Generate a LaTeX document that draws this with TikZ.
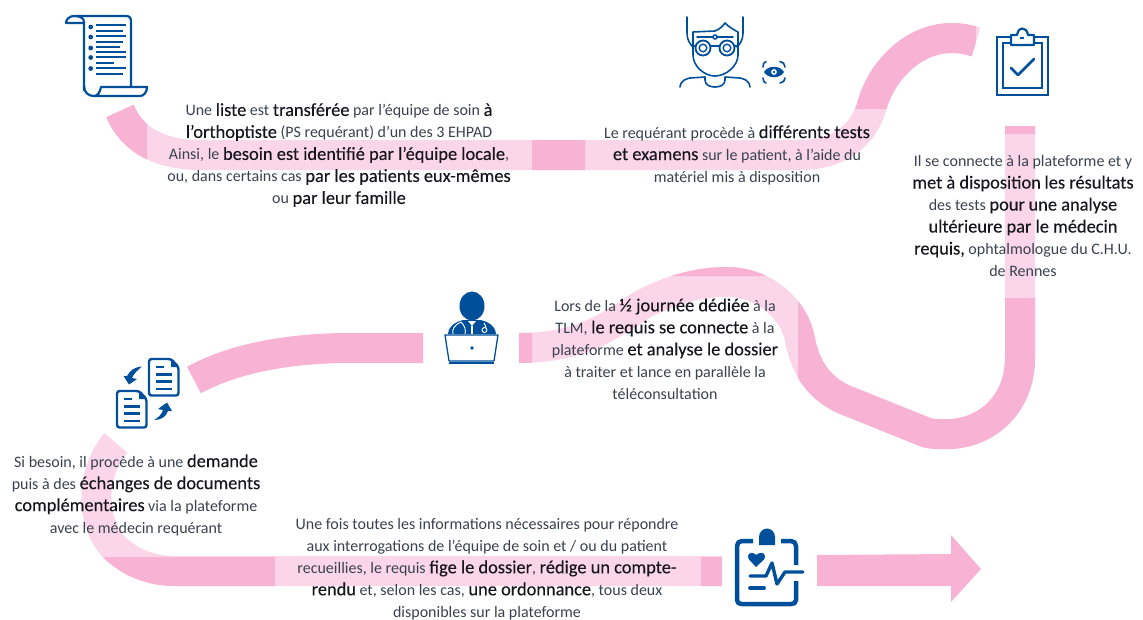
\documentclass[tikz,border=0pt]{standalone}
\usepackage{fontspec}
\setmainfont{Carlito}
\newfontfamily\emfont[FakeBold=0.2]{Carlito}
\definecolor{rdark}{HTML}{F7B2D4}
\definecolor{rpale}{HTML}{FBD6E8}
\definecolor{ink}{HTML}{004F9A}
\definecolor{txt}{HTML}{38424F}
\definecolor{txtb}{HTML}{16161E}
\newcommand{\hi}[1]{{\emfont\fontsize{18.4}{22}\selectfont\color{txtb}#1}}
\newcommand{\pathA}{(120,111) .. controls (132,140) and (160,155) .. (200,155) -- (800,155) .. controls (840,155) and (862,135) .. (871,109) .. controls (882,65) and (925,25) .. (976,42)}
\newcommand{\pathB}{(1020,126) -- (1020,358) .. controls (1020,405) and (985,436) .. (943,434) .. controls (935,434) and (930,434) .. (925,432) -- (843,399) .. controls (820,388) and (806,370) .. (800,340) .. controls (795,310) and (765,282) .. (727,282) .. controls (690,282) and (660,295) .. (640,306) .. controls (605,330) and (575,348) .. (519,348)}
\newcommand{\pathC}{(194,380) .. controls (240,355) and (300,348) .. (350,348) -- (423,348)}
\newcommand{\pathD}{(116,443) .. controls (92,470) and (88,520) .. (115,548) .. controls (130,562) and (150,571) .. (175,571) -- (722,571)}
\tikzset{
  ribbon/.style={line width=30pt,line cap=butt},
  block/.style={align=center,inner sep=0pt,text=txt,font=\fontsize{16}{22}\selectfont},
  icon/.style={draw=ink,line width=2.2pt,line cap=round,line join=round},
  thinicon/.style={draw=ink,line width=1.6pt,line cap=round,line join=round},
  boldicon/.style={draw=ink,line width=4.5pt,line cap=round,line join=round}
}
\begin{document}
\begin{tikzpicture}[x=1pt,y=-1pt]
\useasboundingbox (0,0) rectangle (1143,619);
% ribbons
\draw[ribbon,rpale] \pathA;
\draw[ribbon,rpale] \pathB;
\draw[ribbon,rpale] \pathD;
\draw[ribbon,rdark] \pathC;
\begin{scope}
\clip (90,90) rectangle (147,185) (532,125) rectangle (585,185) (840,0) rectangle (976,109);
\draw[ribbon,rdark] \pathA;
\end{scope}
\begin{scope}
\clip (1000,120) rectangle (1040,134) (798,298) rectangle (1143,460) (519,325) rectangle (532,370) (660,250) rectangle (790,276);
\draw[ribbon,rdark] \pathB;
\end{scope}
\begin{scope}
\clip (60,557) rectangle (275,600) (701,557) rectangle (722,600);
\draw[ribbon,rdark] \pathD;
\end{scope}
\fill[rdark] (817,555) -- (951,554) -- (951,535) -- (981,569) -- (951,602) -- (951,586) -- (817,586) -- cycle;
% scroll icon
\draw[icon] (84,90) -- (84,22) .. controls (84,18) and (80,16) .. (74,16) -- (126,16) .. controls (130,16) and (131,18) .. (131,22) -- (131,87);
\draw[icon] (74,16) .. controls (70,16) and (66,19) .. (66,23) -- (84,23);
\draw[icon] (84,86) .. controls (84,93) and (89,96) .. (94,96) -- (140,96) .. controls (144,96) and (147,92) .. (147,87) -- (101,87) .. controls (100,92) and (98,96) .. (94,96);
\foreach \yy/\xe in {25/126,30.7/123,36/126,41.7/123,46.7/120,52/126,57.3/126,62.7/114,68.3/126,74/123}
  \draw[ink,line width=2pt] (96,\yy) -- (\xe,\yy);
\foreach \yy in {27,37,48,57.5,68.5}
  \fill[ink] (90.7,\yy) circle (2.4pt);
% optician icon
\draw[thinicon] (687,17) -- (687,33) .. controls (687,40) and (690,44) .. (693,47);
\draw[thinicon] (743,17) -- (743,33) .. controls (743,40) and (740,44) .. (737,47);
\draw[thinicon] (693,32) -- (715,31) .. controls (720,29) and (723,26) .. (725,23) .. controls (729,27) and (734,30) .. (738,32) -- (738,55) .. controls (738,66) and (726,76) .. (715,76) .. controls (704,76) and (693,66) .. (693,55) -- cycle;
\draw[thinicon] (697,37) -- (733,37);
\fill[white] (715,37) circle (2pt); \draw[thinicon] (715,37) circle (2pt);
\foreach \cx in {703,727} { \draw[ink,line width=1.8pt,fill=white] (\cx,48) circle (7.5pt); \draw[ink,line width=1.4pt] (\cx,48) circle (3.8pt); }
\draw[thinicon] (692,46) -- (695,46) (711,46) -- (719,46) (735,46) -- (738,46);
\draw[thinicon] (680,87) .. controls (681,80) and (686,79) .. (690,78) -- (705,77) -- (705,80) .. controls (705,85) and (710,87) .. (715,87) .. controls (720,87) and (725,85) .. (725,80) -- (725,77) -- (740,78) .. controls (744,79) and (749,80) .. (750,87);
% eye icon
\draw[ink,line width=1.6pt,line cap=round] (763,67) .. controls (763,64) and (764,62) .. (766,61.5)
  (780,61.5) .. controls (783,62) and (785,64) .. (785,67)
  (763,78) .. controls (763,81) and (764,82.5) .. (766,83)
  (780,83) .. controls (783,82.5) and (785,81) .. (785,78);
\fill[ink,even odd rule] (764,72) .. controls (768,65) and (780,65) .. (784,72) .. controls (780,79) and (768,79) .. (764,72) (774,72) circle (3pt);
\fill[ink] (774,72) circle (1.3pt);
% clipboard check icon
\draw[ink,line width=2.8pt] (1011,37) -- (997,37) -- (997,95) -- (1048,95) -- (1048,37) -- (1034,37);
\draw[ink,line width=2.2pt] (1011,43) -- (1003,43) -- (1003,88) -- (1042,88) -- (1042,43) -- (1034,43);
\draw[ink,line width=2.2pt,line join=round] (1011,45) -- (1011,35) -- (1017,35) .. controls (1018,30) and (1020,28.5) .. (1022,28.5) .. controls (1025,28.5) and (1027,30) .. (1028,35) -- (1034,35) -- (1034,45) -- cycle;
\draw[ink,line width=1.4pt] (1020,38) -- (1024,38);
\draw[ink,line width=2.6pt,line cap=round,line join=round] (1011,68) -- (1018,75) -- (1034,59);
% doctor icon
\fill[ink] (472,306) ellipse (12.5pt and 14.5pt);
\fill[ink] (448,334) .. controls (449,325) and (456,322) .. (463,320) -- (481,320) .. controls (488,322) and (495,325) .. (496,334) -- cycle;
\fill[white] (468,321) -- (476,321) -- (472,326) -- cycle;
\draw[white,line width=1.1pt] (472,326) -- (472,334);
\draw[white,line width=.9pt] (461,322) .. controls (453,326) and (452,330) .. (453,334) (461,322) .. controls (465,326) and (466,330) .. (465,334);
\draw[white,line width=.9pt] (484,323) -- (486,327) (484.5,330) circle (2.5pt);
\draw[ink,line width=1.3pt,fill=white,line join=round] (445,335) -- (498,335) -- (494,361) -- (449,361) -- cycle;
\draw[ink,line width=1.8pt] (449,363) -- (494,363);
\fill[ink] (472,348) circle (1.8pt);
% documents icon
\foreach \dx/\dy in {0/0,-32/32}{
  \draw[ink,line width=2.4pt,line join=round,rounded corners=2.5pt] (149+\dx,359+\dy) -- (171+\dx,359+\dy) -- (178.5+\dx,367+\dy) -- (178.5+\dx,395.5+\dy) -- (149+\dx,395.5+\dy) -- cycle;
  \fill[ink] (171+\dx,360+\dy) -- (177.5+\dx,367+\dy) -- (171+\dx,367+\dy) -- cycle;
  \draw[ink,line width=2.2pt] (156+\dx,367+\dy) -- (164+\dx,367+\dy) (156+\dx,374.5+\dy) -- (172+\dx,374.5+\dy) (156+\dx,381.5+\dy) -- (172+\dx,381.5+\dy) (156+\dx,389+\dy) -- (172+\dx,389+\dy);
}
\fill[ink] (142,366.5) .. controls (135,367) and (130,370) .. (127,376) -- (123.5,376) -- (129,384.5) -- (137,379) -- (132,378) .. controls (134,373) and (138,370) .. (142,366.5) -- cycle;
\fill[ink] (154,420) .. controls (161,420) and (166,417) .. (168,411) -- (172,411) -- (167,402.5) -- (158,409) -- (163,410) .. controls (162,414) and (158,418) .. (154,420) -- cycle;
% medical clipboard icon
\draw[boldicon,line cap=butt] (753,541) -- (742,541) .. controls (739,541) and (737,543) .. (737,546) -- (737,600) .. controls (737,603) and (739,604) .. (742,604) -- (791,604) .. controls (794,604) and (796,603) .. (796,600) -- (796,581);
\draw[boldicon,line cap=butt] (781,541) -- (791,541) .. controls (794,541) and (796,543) .. (796,546) -- (796,565);
\fill[ink] (759,545) -- (759,537) .. controls (759,532) and (763,528.5) .. (767,528.5) .. controls (771,528.5) and (775,532) .. (775,537) -- (775,545) -- cycle;
\fill[ink] (756,567) -- (749,559.5) .. controls (746,555) and (750,552) .. (753,553) .. controls (755,553.5) and (756,555) .. (756,555) .. controls (756,555) and (758,553.5) .. (760,553) .. controls (763,552) and (767,555) .. (764,559.5) -- cycle;
\draw[ink,line width=3.4pt,line cap=round,line join=round] (750,576) -- (766,576) -- (772,563) -- (777,584) -- (785,572) -- (803,572);
\draw[ink,line width=3.8pt,line cap=round] (750,588) -- (764,588);
% text
\node[block] (t1) at (339,155) {Une \hi{liste} est \hi{transférée} par l’équipe de soin \hi{à}\\\hi{l’orthoptiste} (PS requérant) d’un des 3 EHPAD\\Ainsi, le \hi{besoin est identifié par l’équipe locale},\\ou, dans certains cas \hi{par les patients eux-mêmes}\\ou \hi{par leur famille}};
\node[block] (t2) at (737,155) {Le requérant procède à \hi{différents tests}\\\hi{et examens} sur le patient, à l’aide du\\matériel mis à disposition};
\node[block] (t3) at (1023,216) {Il se connecte à la plateforme et y\\\hi{met à disposition} \hi{les résultats}\\des tests \hi{pour} \hi{une analyse}\\\hi{ultérieure par le médecin}\\\hi{requis,} ophtalmologue du C.H.U.\\de Rennes};
\node[block] (t4) at (665,349) {Lors de la \hi{½ journée dédiée} à la\\TLM, \hi{le requis se connecte} à la\\plateforme \hi{et analyse le dossier}\\à traiter et lance en parallèle la\\téléconsultation};
\node[block] (t5) at (136,495) {Si besoin, il procède à une \hi{demande}\\puis à des \hi{échanges de documents}\\\hi{complémentaires} via la plateforme\\avec le médecin requérant};
\node[block] (t6) at (487,569) {Une fois toutes les informations nécessaires pour répondre\\aux interrogations de l’équipe de soin et / ou du patient\\recueillies, le requis \hi{fige le dossier}, \hi{rédige un compte-}\\\hi{rendu} et, selon les cas, \hi{une ordonnance}, tous deux\\disponibles sur la plateforme};
\end{tikzpicture}
\end{document}
